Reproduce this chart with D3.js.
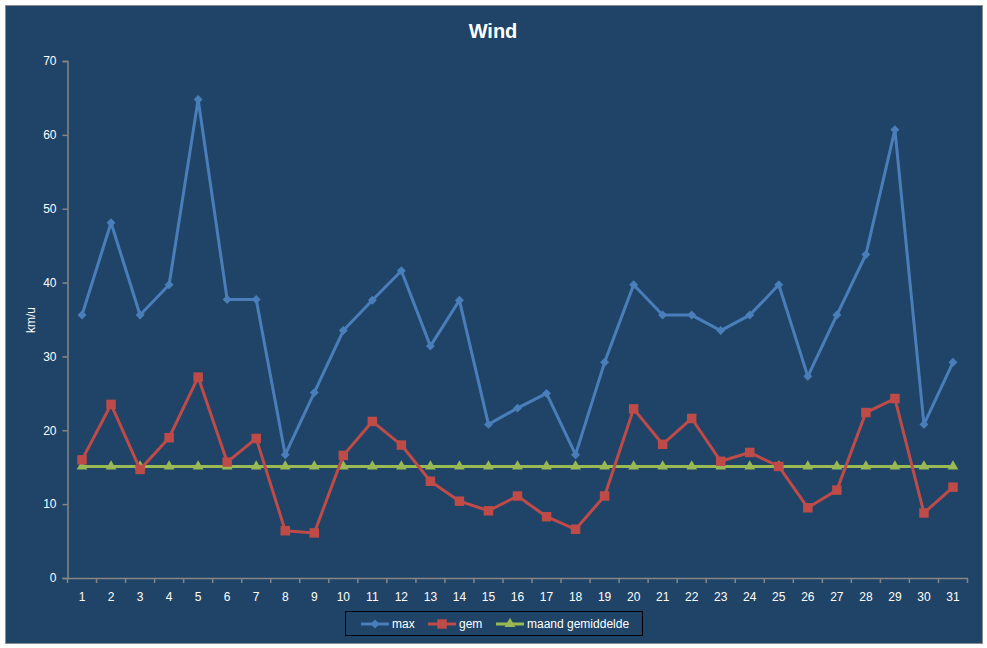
<!DOCTYPE html>
<html>
<head>
<meta charset="utf-8">
<script src="https://cdn.jsdelivr.net/npm/d3@7"></script>
<style>
  body { margin: 0; background: #ffffff; }
  svg { display: block; }
</style>
</head>
<body>
<div id="chart"></div>
<script>
// dagen van de maand
var days = d3.range(1, 32).map(String);

var maxValues = [35.6, 48.1, 35.6, 39.7, 64.8, 37.7, 37.7, 16.7, 25.1, 33.5,
  37.6, 41.6, 31.4, 37.6, 20.8, 23.0, 25.0, 16.7, 29.2, 39.7,
  35.6, 35.6, 33.5, 35.6, 39.7, 27.3, 35.6, 43.8, 60.7, 20.8, 29.2];

var gemValues = [16.0, 23.5, 14.7, 19.0, 27.2, 15.7, 18.9, 6.4, 6.1, 16.6,
  21.2, 18.0, 13.1, 10.4, 9.1, 11.1, 8.3, 6.6, 11.1, 22.9,
  18.1, 21.6, 15.8, 17.0, 15.1, 9.5, 11.9, 22.4, 24.3, 8.8, 12.3];

var maandGemiddelde = days.map(function () { return 15.1; });

var yTicks = [0, 10, 20, 30, 40, 50, 60, 70];
var seriesNames = ["max", "gem", "maand gemiddelde"];

var width = 987, height = 648;
var bg = "#1F4467";
var colors = { "max": "#4A7EBB", "gem": "#BE4B48", "maand gemiddelde": "#98B954" };
var font = "'Liberation Sans', Arial, sans-serif";

var svg = d3.select("#chart").append("svg")
  .attr("width", width)
  .attr("height", height);

svg.append("rect")
  .attr("x", 5.5).attr("y", 5.5)
  .attr("width", 977).attr("height", 638)
  .style("fill", bg)
  .style("stroke", "#8c8c8c")
  .style("stroke-width", 1);

svg.append("text")
  .attr("x", 493).attr("y", 38)
  .attr("text-anchor", "middle")
  .text("Wind")
  .style("fill", "#ffffff")
  .style("font-family", font)
  .style("font-weight", "bold")
  .style("font-size", "20px");

var plot = { left: 67.5, right: 967.5, top: 61, bottom: 578 };

var xScale = d3.scaleBand()
  .domain(days)
  .range([plot.left, plot.right]);

var yScale = d3.scaleLinear()
  .domain([0, 70])
  .range([plot.bottom, plot.top]);

var xCenter = function (d, i) { return xScale(days[i]) + xScale.bandwidth() / 2; };

// y as
var yAxis = svg.append("g")
  .attr("transform", "translate(" + plot.left + ",0)")
  .call(d3.axisLeft(yScale).tickValues(yTicks).tickSize(5).tickPadding(6));

// x as (ticks tussen de categorieen)
var xAxis = svg.append("g")
  .attr("transform", "translate(0," + plot.bottom + ")")
  .call(d3.axisBottom(xScale).tickSize(0).tickPadding(14));

xAxis.selectAll("line.sep")
  .data(d3.range(0, 32))
  .enter()
  .append("line")
  .attr("class", "sep")
  .attr("x1", function (d) { return plot.left + d * xScale.step(); })
  .attr("x2", function (d) { return plot.left + d * xScale.step(); })
  .attr("y1", 0).attr("y2", 5);

[yAxis, xAxis].forEach(function (ax) {
  ax.select(".domain").style("stroke", "#868686").style("stroke-width", 1.5);
  ax.selectAll("line").style("stroke", "#868686").style("stroke-width", 1.5);
  ax.selectAll("text")
    .style("fill", "#ffffff")
    .style("font-family", font)
    .style("font-size", "12px");
});

svg.append("text")
  .attr("transform", "translate(35,320) rotate(-90)")
  .attr("text-anchor", "middle")
  .text("km/u")
  .style("fill", "#ffffff")
  .style("font-family", font)
  .style("font-size", "12px");

var line = d3.line()
  .x(xCenter)
  .y(function (d) { return yScale(d); });

// ruit = gedraaid vierkant
var diamond = d3.symbol().type(d3.symbolSquare).size(40);
var square = d3.symbol().type(d3.symbolSquare).size(90);
var triangle = d3.symbol().type(d3.symbolTriangle).size(50);
var rotate = { "max": " rotate(45)", "gem": "", "maand gemiddelde": "" };

function drawSeries(values, name, sym) {
  svg.append("path")
    .datum(values)
    .attr("d", line)
    .style("fill", "none")
    .style("stroke", colors[name])
    .style("stroke-width", 3)
    .style("stroke-linejoin", "round");

  svg.selectAll("path.m-" + name.replace(/ /g, ""))
    .data(values)
    .enter()
    .append("path")
    .attr("class", "m-" + name.replace(/ /g, ""))
    .attr("d", sym)
    .attr("transform", function (d, i) {
      return "translate(" + xCenter(d, i) + "," + yScale(d) + ")" + rotate[name];
    })
    .style("fill", colors[name]);
}

drawSeries(maandGemiddelde, "maand gemiddelde", triangle);
drawSeries(gemValues, "gem", square);
drawSeries(maxValues, "max", diamond);

// legenda
var legend = svg.append("g");
legend.append("rect")
  .attr("x", 345.5).attr("y", 611.5)
  .attr("width", 297).attr("height", 24)
  .style("fill", "none")
  .style("stroke", "#000000")
  .style("stroke-width", 1);

var legendX = [361, 428, 496];
var legendSym = [diamond, square, triangle];

var items = legend.selectAll("g.item")
  .data(seriesNames)
  .enter()
  .append("g")
  .attr("transform", function (d, i) { return "translate(" + legendX[i] + ",624)"; });

items.append("line")
  .attr("x1", 0).attr("x2", 28)
  .attr("y1", 0).attr("y2", 0)
  .style("stroke", function (d) { return colors[d]; })
  .style("stroke-width", 3);

items.append("path")
  .attr("d", function (d, i) { return legendSym[i](); })
  .attr("transform", function (d) { return "translate(14,0)" + rotate[d]; })
  .style("fill", function (d) { return colors[d]; });

items.append("text")
  .attr("x", 31)
  .attr("y", 0)
  .attr("dy", "0.35em")
  .text(function (d) { return d; })
  .style("fill", "#ffffff")
  .style("font-family", font)
  .style("font-size", "12px");
</script>
</body>
</html>
